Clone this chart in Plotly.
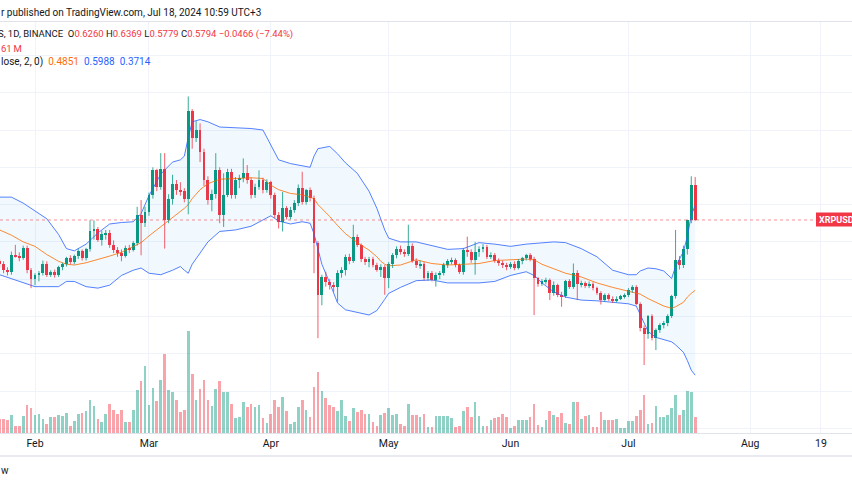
import pandas as pd
import plotly.graph_objects as go

# ---------------- data ----------------
start_date = "2024-01-23"

opens = [.524,.521,.512,.509,.533,.531,.528,.542,.512,.500,.505,.508,.521,.506,.510,.505,.516,.520,.528,.523,
         .531,.538,.528,.540,.564,.567,.553,.560,.562,.546,.539,.535,.531,.542,.539,.548,.586,.575,.590,.613,
         .646,.624,.648,.579,.607,.628,.620,.618,.607,.725,.689,.700,.671,.633,.606,.614,.646,.586,.613,.644,
         .613,.633,.636,.642,.633,.613,.624,.633,.620,.630,.613,.586,.577,.595,.584,.593,.602,.622,.604,.619,
         .609,.548,.479,.503,.496,.492,.490,.508,.512,.530,.524,.557,.546,.527,.523,.527,.519,.512,.517,.502,
         .520,.532,.541,.537,.534,.544,.525,.519,.521,.501,.508,.499,.506,.508,.519,.524,.526,.519,.510,.539,
         .537,.526,.537,.540,.543,.530,.533,.525,.522,.519,.516,.521,.515,.524,.528,.532,.527,.501,.494,.497,
         .499,.481,.492,.479,.477,.497,.490,.508,.493,.495,.491,.494,.488,.482,.472,.479,.474,.471,.474,.477,
         .479,.486,.490,.467,.434,.426,.450,.421,.432,.438,.441,.450,.477,.526,.519,.541,.579,.626]
highs = [.527,.524,.516,.537,.546,.536,.545,.545,.515,.508,.511,.525,.524,.512,.513,.518,.522,.530,.532,.533,
         .541,.540,.542,.579,.579,.570,.565,.566,.566,.552,.543,.540,.545,.546,.551,.597,.606,.597,.616,.650,
         .648,.669,.669,.614,.640,.633,.630,.622,.745,.728,.712,.709,.675,.638,.620,.669,.650,.642,.648,.648,
         .637,.640,.662,.653,.636,.628,.646,.636,.634,.632,.616,.590,.617,.598,.597,.606,.627,.644,.621,.623,
         .612,.551,.506,.510,.500,.496,.512,.516,.533,.534,.573,.560,.548,.530,.530,.530,.522,.520,.519,.523,
         .535,.544,.545,.540,.573,.548,.528,.525,.523,.511,.511,.509,.511,.522,.527,.529,.528,.521,.542,.557,
         .540,.550,.544,.547,.546,.536,.535,.528,.525,.522,.523,.524,.527,.530,.534,.535,.530,.503,.500,.502,
         .501,.497,.494,.483,.499,.500,.521,.512,.498,.497,.497,.496,.490,.484,.481,.481,.477,.477,.479,.481,
         .488,.492,.492,.469,.438,.452,.453,.434,.441,.444,.453,.479,.566,.531,.545,.580,.638,.6369]
lows = [.516,.508,.505,.506,.529,.524,.526,.508,.488,.492,.497,.505,.503,.503,.502,.503,.512,.517,.520,.520,
        .527,.525,.525,.537,.553,.550,.545,.553,.542,.535,.530,.524,.529,.535,.537,.545,.532,.570,.585,.608,
        .618,.620,.541,.575,.600,.613,.612,.603,.587,.675,.684,.657,.625,.600,.591,.608,.575,.570,.610,.608,
        .608,.622,.630,.628,.608,.609,.620,.615,.616,.608,.582,.568,.564,.580,.580,.589,.598,.600,.600,.604,
        .508,.421,.465,.490,.486,.483,.470,.502,.505,.520,.522,.543,.523,.519,.516,.516,.510,.503,.479,.488,
        .515,.528,.533,.530,.531,.522,.515,.514,.498,.498,.497,.490,.500,.505,.515,.520,.516,.507,.506,.530,
        .522,.506,.530,.536,.527,.527,.522,.518,.515,.512,.514,.512,.513,.520,.525,.524,.452,.490,.491,.493,
        .472,.478,.476,.463,.475,.487,.487,.472,.489,.488,.488,.485,.479,.466,.470,.471,.468,.469,.472,.474,
        .476,.482,.465,.430,.385,.420,.418,.405,.428,.434,.437,.448,.474,.513,.515,.533,.575,.5779]
closes = [.521,.512,.509,.533,.531,.528,.542,.512,.500,.505,.508,.521,.506,.510,.505,.516,.520,.528,.523,.531,
          .538,.528,.540,.564,.567,.553,.560,.562,.546,.539,.535,.531,.542,.539,.548,.586,.575,.590,.613,.646,
          .624,.648,.579,.607,.628,.620,.618,.607,.725,.689,.700,.671,.633,.606,.614,.646,.586,.613,.644,.613,
          .633,.636,.642,.633,.613,.624,.633,.620,.630,.613,.586,.577,.595,.584,.593,.602,.622,.604,.619,.609,
          .548,.479,.503,.496,.492,.490,.508,.512,.530,.524,.557,.546,.527,.523,.527,.519,.512,.517,.502,.520,
          .532,.541,.537,.534,.544,.525,.519,.521,.501,.508,.499,.506,.508,.519,.524,.526,.519,.510,.539,.537,
          .526,.537,.540,.543,.530,.533,.525,.522,.519,.516,.521,.515,.524,.528,.532,.527,.501,.494,.497,.499,
          .481,.492,.479,.477,.497,.490,.508,.493,.495,.491,.494,.488,.482,.472,.479,.474,.471,.474,.477,.479,
          .486,.490,.467,.434,.426,.450,.421,.432,.438,.441,.450,.477,.526,.519,.541,.579,.626,.5794]
volumes_m = [55,56,52,71,26,28,65,110,98,69,74,55,36,64,61,70,67,77,28,46,
             75,79,85,129,106,56,42,74,114,91,74,91,42,42,91,169,204,262,109,176,
             126,208,307,167,159,130,81,89,399,230,129,173,208,129,106,173,204,161,161,114,
             57,64,122,100,114,103,109,59,38,73,130,100,140,87,35,44,103,130,91,64,
             179,237,163,137,109,101,85,130,67,46,96,81,91,74,74,42,28,70,79,96,
             70,74,36,26,114,70,70,61,74,23,23,65,67,67,67,59,23,26,85,100,
             62,120,67,28,26,52,59,62,74,62,20,28,52,52,52,61,113,31,23,52,
             87,70,61,78,39,35,120,120,56,67,70,22,23,81,50,52,52,55,18,20,
             46,48,65,91,147,36,39,106,61,61,71,98,149,71,91,163,161,61]

# Bollinger Bands (20, close, 2) read at sample days (index from start_date)
bb_day = [0,3,6,9,12,15,17,19,22,25,28,31,34,36,38,41,44,46,47,48,49,51,53,56,60,64,67,69,71,74,77,79,80,81,82,84,
          86,88,91,94,96,97,98,99,102,106,110,114,118,122,126,130,134,136,138,141,144,148,152,156,160,162,163,165,
          167,169,171,172,174,175,176,177]
bb_upper = [.610,.610,.602,.592,.581,.560,.541,.538,.547,.562,.574,.576,.577,.588,.612,.641,.657,.660,.665,.690,.711,
            .714,.711,.704,.703,.702,.700,.680,.660,.655,.652,.650,.665,.675,.676,.678,.668,.656,.642,.618,.595,.580,
            .566,.555,.550,.550,.545,.540,.541,.549,.547,.544,.547,.548,.549,.550,.549,.541,.530,.512,.506,.506,.511,
            .515,.514,.511,.501,.517,.537,.557,.586,.5988]
bb_basis = [.566,.559,.550,.544,.533,.524,.520,.519,.522,.526,.531,.536,.544,.549,.558,.570,.582,.590,.595,.600,.608,
            .620,.628,.634,.635,.636,.635,.626,.620,.615,.613,.610,.608,.600,.595,.584,.572,.561,.549,.539,.530,.524,
            .520,.518,.519,.526,.521,.519,.520,.521,.525,.526,.527,.526,.520,.514,.508,.503,.495,.489,.484,.482,.480,
            .474,.469,.464,.461,.463,.469,.476,.481,.4851]
bb_lower = [.506,.501,.496,.490,.490,.490,.497,.497,.490,.488,.492,.505,.512,.515,.508,.506,.512,.517,.512,.508,.520,
            .535,.550,.564,.566,.571,.580,.585,.578,.574,.577,.575,.561,.540,.520,.495,.468,.459,.456,.452,.458,.465,
            .473,.481,.489,.498,.499,.495,.495,.495,.497,.505,.510,.505,.495,.483,.476,.472,.471,.469,.467,.464,.452,
            .430,.422,.419,.416,.412,.402,.391,.378,.3714]

tick_dates = ["2024-02-01", "2024-03-01", "2024-04-01", "2024-05-01", "2024-06-01",
              "2024-07-01", "2024-08-01", "2024-08-19"]
tick_labels = ["Feb", "Mar", "Apr", "May", "Jun", "Jul", "Aug", "19"]
price_grid = [0.30, 0.35, 0.40, 0.45, 0.50, 0.55, 0.60, 0.65, 0.70, 0.75, 0.80]

# ---------------- styling ----------------
W, H = 852, 485
TOP, BOTTOM = 22, 433
UP, DOWN = "#089981", "#F23645"
VOL_UP, VOL_DOWN = "rgba(8,153,129,0.45)", "rgba(242,54,69,0.45)"
TXT = "#131722"
FONT = "Roboto"
DAY_MS = 86400000

dates = pd.date_range(start_date, periods=len(closes), freq="D")
bb_dates = [dates[i] for i in bb_day]


def px_x(px):
    return px / W


def px_y(py):
    return (BOTTOM - py) / (BOTTOM - TOP)


fig = go.Figure()

# volume (overlay scale at the bottom of the pane)
vol_colors = [VOL_UP if c >= o else VOL_DOWN for o, c in zip(opens, closes)]
fig.add_trace(go.Bar(x=dates, y=volumes_m, marker=dict(color=vol_colors, line=dict(width=0)),
                     width=0.68 * DAY_MS, yaxis="y2", hoverinfo="skip"))

# Bollinger band fill + lines
fig.add_trace(go.Scatter(x=bb_dates, y=bb_lower, mode="lines", line=dict(color="rgba(41,98,255,0.8)", width=1),
                         hoverinfo="skip"))
fig.add_trace(go.Scatter(x=bb_dates, y=bb_upper, mode="lines", line=dict(color="rgba(41,98,255,0.8)", width=1),
                         fill="tonexty", fillcolor="rgba(33,150,243,0.06)", hoverinfo="skip"))
fig.add_trace(go.Scatter(x=bb_dates, y=bb_basis, mode="lines", line=dict(color="rgba(255,109,0,0.8)", width=1),
                         hoverinfo="skip"))

# candles: wicks
for is_up, col in ((True, UP), (False, DOWN)):
    wx, wy = [], []
    for d, o, h, l, c in zip(dates, opens, highs, lows, closes):
        if (c >= o) == is_up:
            wx += [d, d, None]
            wy += [l, h, None]
    fig.add_trace(go.Scatter(x=wx, y=wy, mode="lines", line=dict(color=col, width=1),
                             opacity=0.8, hoverinfo="skip"))

# candles: bodies
for is_up, col in ((True, UP), (False, DOWN)):
    bx, bbase, bh = [], [], []
    for d, o, c in zip(dates, opens, closes):
        if (c >= o) == is_up:
            bx.append(d)
            bbase.append(min(o, c))
            bh.append(max(abs(c - o), 0.0014))
    fig.add_trace(go.Bar(x=bx, y=bh, base=bbase, width=0.72 * DAY_MS,
                         marker=dict(color=col, line=dict(width=0)), hoverinfo="skip"))

last_close = closes[-1]

shapes = [
    # last price dotted line
    dict(type="line", xref="paper", yref="y", x0=0, x1=px_x(816), y0=last_close, y1=last_close,
         line=dict(color="rgba(242,54,69,0.55)", width=1, dash="dot")),
    # price label box (cut at the right edge)
    dict(type="rect", xref="paper", yref="paper", x0=px_x(816), x1=px_x(870),
         y0=px_y(226.5), y1=px_y(212.5), fillcolor="#F23645", line=dict(width=0)),
    # pane top border
    dict(type="line", xref="paper", yref="paper", x0=0, x1=1, y0=px_y(21.5), y1=px_y(21.5),
         line=dict(color="#e0e3eb", width=1)),
    # time-axis bottom border
    dict(type="line", xref="paper", yref="paper", x0=0, x1=1, y0=px_y(456), y1=px_y(456),
         line=dict(color="#e0e3eb", width=1.5)),
]

RED_SPAN = "<span style='color:#F23645'>{}</span>"
annotations = [
    dict(text="r published on TradingView.com, Jul 18, 2024 10:59 UTC+3", x=px_x(0), y=px_y(12.5),
         font=dict(size=10, color=TXT)),
    dict(text=("S, 1D, BINANCE\u00a0\u00a0O" + RED_SPAN.format("0.6260")
               + "\u00a0H" + RED_SPAN.format("0.6369")
               + "\u00a0L" + RED_SPAN.format("0.5779")
               + "\u00a0C" + RED_SPAN.format("0.5794")
               + "\u00a0" + RED_SPAN.format("\u22120.0466 (\u22127.44%)")),
         x=px_x(-3), y=px_y(34), font=dict(size=9.5, color=TXT)),
    dict(text="61\u2009M", x=px_x(0), y=px_y(48), font=dict(size=9.5, color="#F23645")),
    dict(text=("lose, 2, 0)\u00a0\u00a0<span style='color:#FF6D00'>0.4851</span>"
               "\u00a0\u00a0<span style='color:#2962FF'>0.5988</span>"
               "\u00a0\u00a0<span style='color:#2962FF'>0.3714</span>"),
         x=px_x(0), y=px_y(62), font=dict(size=10, color=TXT)),
    dict(text="<b>XRPUSD</b>", x=px_x(818), y=px_y(219.5), font=dict(size=9, color="white")),
    dict(text="w", x=px_x(0), y=px_y(470), font=dict(size=10, color=TXT)),
]
for a in annotations:
    a.update(xref="paper", yref="paper", xanchor="left", yanchor="middle", showarrow=False,
             borderpad=0)

fig.update_layout(
    width=W, height=H,
    margin=dict(l=0, r=0, t=TOP, b=H - BOTTOM, pad=0),
    paper_bgcolor="white", plot_bgcolor="white",
    showlegend=False, barmode="overlay", bargap=0,
    font=dict(family=FONT, size=10, color=TXT),
    xaxis=dict(type="date", range=["2024-01-23 02:15", "2024-08-26 21:36"],
               tickvals=tick_dates, ticktext=tick_labels,
               showgrid=True, gridcolor="#f0f3fa", gridwidth=1,
               showline=True, linecolor="#e0e3eb", linewidth=1,
               ticks="", tickfont=dict(size=10.5, color=TXT, family=FONT),
               zeroline=False, fixedrange=True),
    yaxis=dict(range=[0.2938, 0.8448], tickvals=price_grid, showticklabels=False,
               showgrid=True, gridcolor="#f0f3fa", gridwidth=1, zeroline=False, fixedrange=True),
    yaxis2=dict(overlaying="y", range=[0, 1604], visible=False, fixedrange=True),
    shapes=shapes, annotations=annotations,
)

fig.write_html("out.html")
